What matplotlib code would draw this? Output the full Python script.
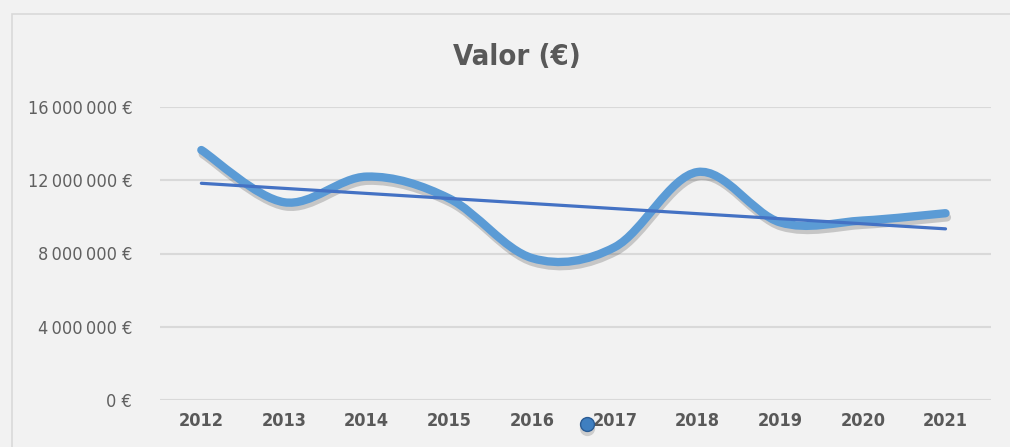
import numpy as np
import matplotlib.pyplot as plt
import matplotlib.patheffects as pe
from matplotlib.path import Path
from matplotlib.patches import PathPatch, Rectangle
from matplotlib.ticker import FuncFormatter

# valores anuais (€)
anos = ['2012', '2013', '2014', '2015', '2016', '2017', '2018', '2019', '2020', '2021']
valores = [13650000, 10800000, 12200000, 11000000, 7750000, 8350000, 12450000, 9700000, 9800000, 10200000]
y_ticks = [0, 4000000, 8000000, 12000000, 16000000]

fundo = '#f2f2f2'
cinza_txt = '#595959'

fig = plt.figure(figsize=(10.1, 4.47), dpi=100, facecolor=fundo)
ax = fig.add_axes([160 / 1010, 47 / 447, 831 / 1010, 293 / 447])
ax.set_facecolor(fundo)

# moldura do gráfico, estilo Excel
fig.patches.append(Rectangle((12 / 1010, -0.1), 1.2, 1 - 14 / 447 + 0.1, transform=fig.transFigure,
                             facecolor='none', edgecolor='#d9d9d9', lw=1.2, zorder=0))

x = np.arange(len(anos))
y = np.array(valores, dtype=float)

# linha suavizada (bezier tipo Catmull-Rom, como o Excel)
verts = [(x[0], y[0])]
codes = [Path.MOVETO]
for i in range(len(x) - 1):
    p0 = (x[max(i - 1, 0)], y[max(i - 1, 0)])
    p1 = (x[i], y[i])
    p2 = (x[i + 1], y[i + 1])
    p3 = (x[min(i + 2, len(x) - 1)], y[min(i + 2, len(x) - 1)])
    c1 = (p1[0] + (p2[0] - p0[0]) / 6, p1[1] + (p2[1] - p0[1]) / 6)
    c2 = (p2[0] - (p3[0] - p1[0]) / 6, p2[1] - (p3[1] - p1[1]) / 6)
    verts += [c1, c2, p2]
    codes += [Path.CURVE4] * 3
curva = PathPatch(Path(verts, codes), facecolor='none', edgecolor='#5b9bd5', lw=6,
                  capstyle='round', joinstyle='round', zorder=3)
curva.set_path_effects([pe.SimpleLineShadow(offset=(1, -3), shadow_color='black', alpha=0.18),
                        pe.Normal()])
ax.add_patch(curva)

# linha de tendência linear
a, b = np.polyfit(x, y, 1)
ax.plot(x, a * x + b, color='#4472c4', lw=2.3, solid_capstyle='round', zorder=4)

ax.set_xlim(-0.5, len(anos) - 0.45)
ax.set_ylim(0, 16000000)
ax.set_yticks(y_ticks)
ax.yaxis.set_major_formatter(FuncFormatter(lambda v, p: f'{int(v):,}'.replace(',', '\u2009') + ' €'))
ax.set_xticks(x)
ax.set_xticklabels(anos)
ax.grid(axis='y', color='#d9d9d9', lw=1.5)
ax.set_axisbelow(True)
for s in ax.spines.values():
    s.set_visible(False)
ax.tick_params(length=0)
ax.tick_params(axis='y', pad=20, labelsize=13, labelcolor='#606060')
ax.tick_params(axis='x', pad=9, labelsize=13, labelcolor=cinza_txt)
for t in ax.get_yticklabels():
    t.set_fontstretch('condensed')
for t in ax.get_xticklabels():
    t.set_fontstretch('condensed')
    t.set_fontweight('bold')

fig.text(0.512, 1 - 57 / 447, 'Valor (€)', ha='center', va='center', fontsize=21,
         fontweight='bold', fontstretch='condensed', color=cinza_txt)

# pequena esfera azul (objeto solto no original)
fig.add_artist(plt.Line2D([587 / 1010], [1 - 428 / 447], marker='o', markersize=11,
                          markerfacecolor='black', markeredgecolor='none', alpha=0.15,
                          transform=fig.transFigure))
fig.add_artist(plt.Line2D([587 / 1010], [1 - 424 / 447], marker='o', markersize=10,
                          markerfacecolor='#3f7fc0', markeredgecolor='#2b5c94',
                          transform=fig.transFigure))

fig.savefig('out.png', dpi=100, facecolor=fundo)
